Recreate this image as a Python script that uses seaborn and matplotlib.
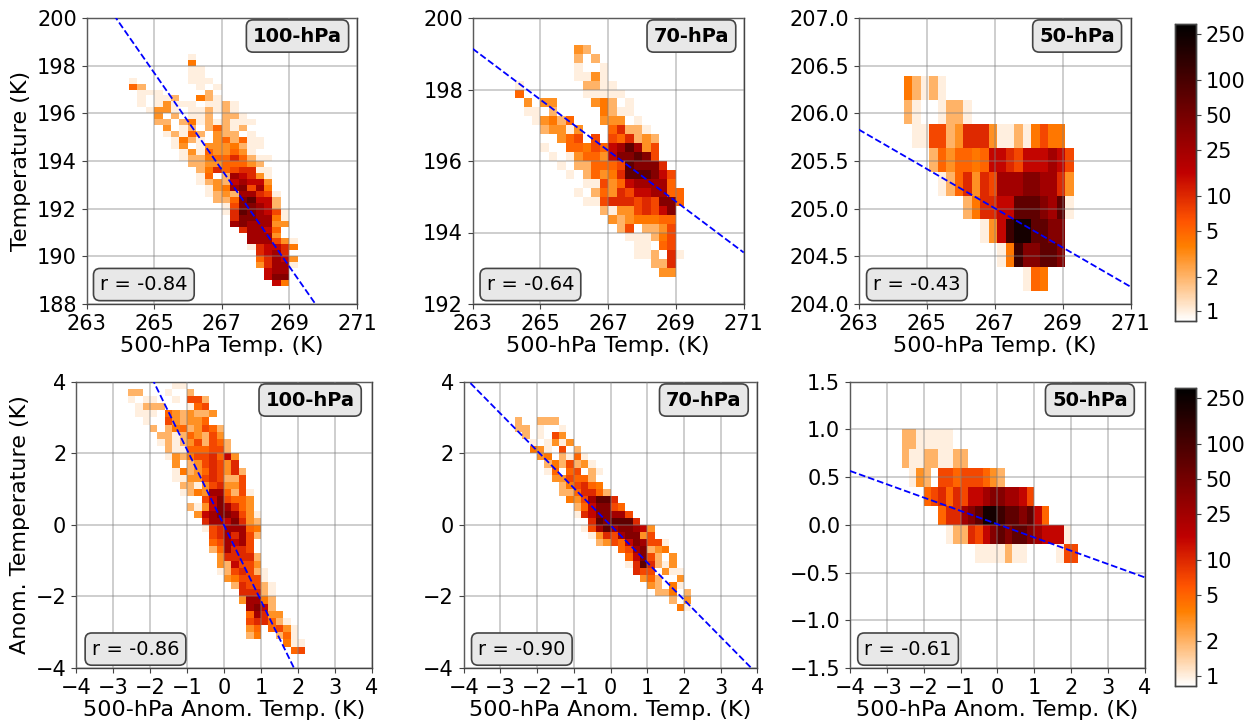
import numpy as np
import matplotlib
matplotlib.use('Agg')
import matplotlib.pyplot as plt
from matplotlib.colors import LogNorm
import seaborn as sns

# 2D histogram cells, top row first, one char per cell ('.' = empty, see COUNTS)
COUNTS = {'1': 1, '2': 2, '3': 3, '4': 4, '5': 5, '6': 7, '7': 10, '8': 15, '9': 25,
          'a': 40, 'b': 70, 'c': 120, 'd': 220}

temp_100 = [
    ".......1", ".......4", ".......11", ".......11", "1......111", "52......1.1",
    ".111.....2", ".1.112..421", ".1.13111.1121", "..1331.112121", "...3.2.112.221",
    "...22.241212111", "....3.12.25212", "....12152.322.1", ".....1421.352511",
    ".....13.13334211", "......131533531", "......12245575211", ".......223355532",
    "........247567711", "........15.298731", "........123289883", ".........1349a694",
    ".........123299761", "..........225ab882", "...........16aa982", "...........17ba9861",
    "............7aa9941", "............9a99933", ".............79985", "..............9993",
    "..............999631", "..............178874", "...............7897",
    "...............57983", "...............37991", "................899",
    "................8aa", ".................84",
]
temp_70 = [
    ".......32", ".......2.2", ".......1..1", ".......1131", "1.......2211", "5.......11111",
    ".3.33....342.1", ".11.2.....4211", "..13425...333.1", "...23313...57221",
    ".....356.6.657232", "...1..5546589b936", "....1.135538aaba6", ".....1.225556baaa7",
    "......1.25347bbba86", "........11635899995", ".......1.25376889955",
    "........116777676aa5", "..........21336768a", "...........32344455",
    "............26.2236", ".............111246", "..............11.56",
    "..............112.71", "................227", ".................33",
]
temp_50 = [
    "42121", "21..1221", ".116623777311214644", "...25355458876888986",
    "....1257376999aa9973", ".......247788bbba9b1", ".........138cddbbaa",
    "...........14caabba", "..............154",
]
anom_100 = [
    "......11", "22...1..2", "1.11..1.662", ".1222...156", ".111.5323223", "..1..632335",
    "...2.24523652", "....221253263", "....1212362652", ".....211555662",
    ".....1324667583", "......3.2367637", "......1423576372", "......1133676226",
    ".......221367336", ".......1243995261", "..........68a6553", "........2138a9753",
    ".........389aa9631", "..........7998a732", "..........16799954", "...........6797962",
    "...........569896", "...........259776", "............377772", "............328663",
    "............1267621", ".............346661", "..............276621",
    "...............77721", "...............39942", "................9a82",
    "................59733", "................677521", "................35.5631",
    "................24..251", ".....................411", "......................56",
]
anom_70 = [
    "2..222", "22.1..1", ".2.1.63", "..1.1313", "..431.6.2", "...34.2151", "....2426231",
    "....15.56.21", ".....336552", "......246754", "......2257752", ".......4369bb7",
    "........258aa65", "........178aa996", "..........7babbb7", ".........169b9aa983",
    "..........13769aa36", "...........23658a9661", "..............569a234",
    "...............58a62.3", "...............17b7213", "................766.311",
    ".................352..3", "..................32.41", "...................224.2",
    ".....................2.3", "......................41",
]
anom_50 = [
    "2211111", "211221122", ".132.665666532", "...567576889aa9986",
    ".....5779abddcbbab85", "......122768ababba98881", "..........1111211....166",
]

titles = ['100-hPa', '70-hPa', '50-hPa', '100-hPa', '70-hPa', '50-hPa']
r_labels = ['r = -0.84', 'r = -0.64', 'r = -0.43', 'r = -0.86', 'r = -0.90', 'r = -0.61']

# fitted line value at the left and right end of each x axis
fit_left = [201.77, 199.14, 205.83, 8.43, 4.15, 0.565]
fit_right = [185.50, 193.44, 204.18, -8.45, -4.17, -0.55]

temp_xticks = [263, 265, 267, 269, 271]
anom_xticks = [-4, -3, -2, -1, 0, 1, 2, 3, 4]
yticks_list = [
    [188, 190, 192, 194, 196, 198, 200],
    [192, 194, 196, 198, 200],
    [204.0, 204.5, 205.0, 205.5, 206.0, 206.5, 207.0],
    [-4, -2, 0, 2, 4],
    [-4, -2, 0, 2, 4],
    [-1.5, -1.0, -0.5, 0.0, 0.5, 1.0, 1.5],
]
cbar_ticks = [1, 2, 5, 10, 25, 50, 100, 250]

grids = [temp_100, temp_70, temp_50, anom_100, anom_70, anom_50]
# left x edge, top y edge of each grid
x_start = [264.25, 264.25, 264.33, -2.6, -2.6, -2.6]
y_start = [198.5, 199.25, 206.387, 4.0, 3.0, 1.0]

# axes boxes in pixels: left, right, top, bottom
W, H = 1255, 724
boxes = [(86.5, 357, 18, 304), (472.7, 743.7, 18, 304), (858.7, 1130.7, 18, 304),
         (76, 372, 381.7, 668), (463.7, 757.3, 381.7, 668), (850, 1144.7, 381.7, 668)]
cbar_boxes = [(1175, 1196, 24, 321), (1175, 1196, 388, 686)]
title_pos = [(.78, .937), (.807, .937), (.803, .937), (.791, .936), (.818, .936), (.814, .936)]
r_pos = [(.212, .068), (.213, .068), (.214, .068), (.201, .066), (.198, .066), (.197, .066)]

TICK_FS = 15
LABEL_FS = 16
BOX_FS = 14
BIN_X = [0.25, 0.25, 0.25, 0.2, 0.2, 0.2]
BIN_Y = [0.25, 0.25, 0.25, 0.2, 0.2, 0.2]


def decode(rows):
    width = max(len(r) for r in rows)
    out = np.full((len(rows), width), np.nan)
    for j, row in enumerate(rows):
        for i, ch in enumerate(row):
            if ch != '.':
                out[j, i] = COUNTS[ch]
    return out


def make_axes(fig, box):
    left, right, top, bottom = box
    return fig.add_axes([left / W, 1 - bottom / H, (right - left) / W, (bottom - top) / H])


def tick_text(v):
    if isinstance(v, float):
        s = '%.1f' % v
    else:
        s = str(v)
    return s.replace('-', '\u2212')


fig = plt.figure(figsize=(W / 100, H / 100), dpi=100)
norm = LogNorm(vmin=0.825, vmax=307)
cmap = 'gist_heat_r'

for k, rows in enumerate(grids):
    ax = make_axes(fig, boxes[k])
    data = decode(rows)
    show_cbar = k in (2, 5)
    cax = make_axes(fig, cbar_boxes[0 if k == 2 else 1]) if show_cbar else None
    sns.heatmap(data, ax=ax, cmap=cmap, norm=norm, cbar=show_cbar, cbar_ax=cax,
                cbar_kws={'ticks': cbar_ticks} if show_cbar else None,
                xticklabels=False, yticklabels=False)

    to_x = lambda v: (np.asarray(v, dtype=float) - x_start[k]) / BIN_X[k]
    to_y = lambda v: (y_start[k] - np.asarray(v, dtype=float)) / BIN_Y[k]

    xticks = temp_xticks if k < 3 else anom_xticks
    yticks = yticks_list[k]
    ax.set_xlim(to_x(xticks[0]), to_x(xticks[-1]))
    ax.set_ylim(to_y(yticks[0]), to_y(yticks[-1]))
    ax.set_xticks(to_x(xticks))
    ax.set_xticklabels([tick_text(v) for v in xticks], rotation=0, fontsize=TICK_FS)
    ax.set_yticks(to_y(yticks))
    ax.set_yticklabels([tick_text(v) for v in yticks], rotation=0, fontsize=TICK_FS)
    ax.tick_params(length=3.5, width=0.8, color='#444444', pad=3.5)

    ax.set_axisbelow(False)
    ax.grid(True, color='gray', alpha=0.45, linewidth=1.2)
    for s in ax.spines.values():
        s.set_visible(True)
        s.set_color('#444444')
        s.set_linewidth(1.0)

    ax.plot(to_x([xticks[0], xticks[-1]]), to_y([fit_left[k], fit_right[k]]),
            color='blue', linestyle='--', linewidth=1.3, zorder=4)

    ax.set_xlabel('500-hPa Temp. (K)' if k < 3 else '500-hPa Anom. Temp. (K)',
                  fontsize=LABEL_FS, labelpad=1.5)
    if k == 0:
        ax.set_ylabel('Temperature (K)', fontsize=LABEL_FS, labelpad=4)
    if k == 3:
        ax.set_ylabel('Anom. Temperature (K)', fontsize=LABEL_FS, labelpad=4)

    box_kw = dict(boxstyle='round,pad=0.34', facecolor='#e8e8e8', edgecolor='#444444', linewidth=1.2)
    ax.text(title_pos[k][0], title_pos[k][1], titles[k], transform=ax.transAxes, ha='center',
            va='center', fontsize=BOX_FS, fontweight='bold', bbox=box_kw, zorder=6)
    ax.text(r_pos[k][0], r_pos[k][1], r_labels[k], transform=ax.transAxes, ha='center',
            va='center', fontsize=BOX_FS, bbox=box_kw, zorder=6)

    if show_cbar:
        cax.minorticks_off()
        cax.set_yticks(cbar_ticks)
        cax.set_yticklabels([str(t) for t in cbar_ticks], fontsize=TICK_FS)
        cax.tick_params(length=3.5, width=0.8, color='#444444')
        for s in cax.spines.values():
            s.set_visible(True)
            s.set_color('#444444')
            s.set_linewidth(1.0)

fig.savefig('out.png', dpi=100)
